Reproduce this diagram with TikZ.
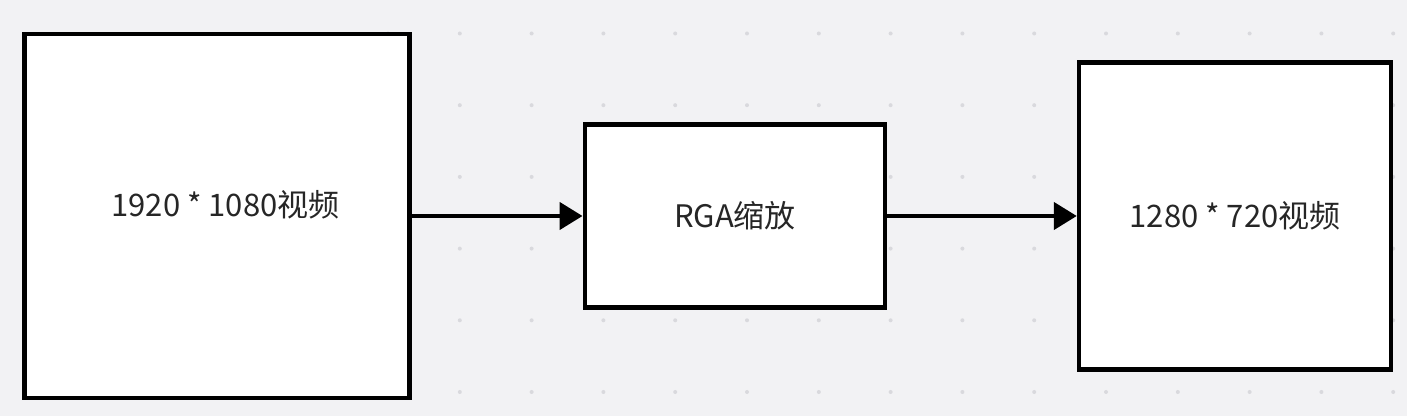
\documentclass[tikz,border=0pt]{standalone}
\usepackage{fontspec}
\setmainfont{Noto Sans CJK SC}
\usepackage{xcolor}
\usetikzlibrary{arrows.meta, positioning}
\definecolor{canvas}{HTML}{F2F2F4}
\definecolor{griddot}{HTML}{D9D9DD}
\definecolor{txtgray}{HTML}{262626}

\begin{document}
\begin{tikzpicture}[x=0.5pt, y=-0.5pt, >={Triangle[length=11.5pt, width=13.5pt]},
  every node/.style={font=\fontsize{15.5pt}{18pt}\selectfont, text=txtgray},
  block/.style={draw=black, line width=2.2pt, fill=white, inner sep=0pt}]

\fill[canvas] (0,0) rectangle (1407,416);
\useasboundingbox (0,0) rectangle (1407,416);

% dot grid of the canvas
\foreach \i in {0,...,14} {
  \foreach \j in {0,...,5} {
    \fill[griddot] (388+71.8*\i, 33.5+71.7*\j) circle (1pt);
  }
}

\node[block, minimum width=192.5pt, minimum height=182.25pt] (src) at (217,216) {};
\node[xshift=4.25pt, yshift=5.5pt] (srctext) at (src) {1920 * 1080视频};
\node[block, minimum width=150.25pt, minimum height=91.5pt] (rga) at (735,216) {RGA缩放};
\node[block, minimum width=156pt, minimum height=153.5pt] (dst) at (1235,216) {1280 * 720视频};

\draw[->, line width=2.2pt] (src) -- (rga);
\draw[->, line width=2.2pt] (rga) -- (dst);

\end{tikzpicture}
\end{document}
